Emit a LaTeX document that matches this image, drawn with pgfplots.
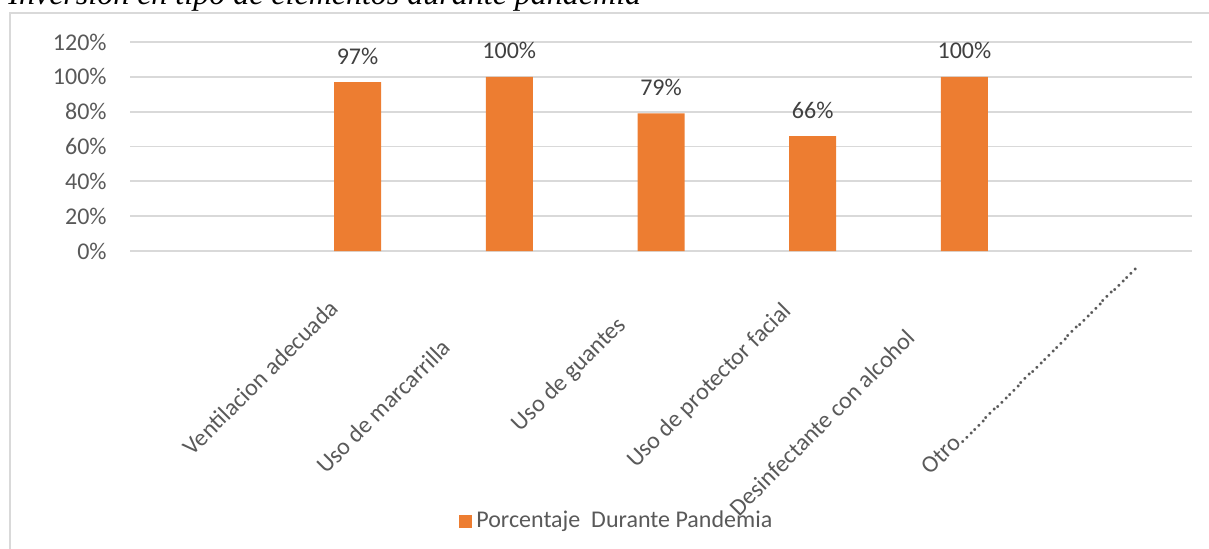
\documentclass[border=0pt]{standalone}
\usepackage{pgfplots}
\pgfplotsset{compat=1.18}
\usepackage{fontspec}
\setmainfont{Carlito}
\newfontfamily\titlefont{Liberation Serif}
\definecolor{barorange}{HTML}{ED7D31}
\definecolor{gridgray}{HTML}{D9D9D9}
\definecolor{ticktext}{HTML}{595959}
\definecolor{labeltext}{HTML}{404040}
\begin{document}
\begin{tikzpicture}
\useasboundingbox (0,0) rectangle (604.5pt,-274.5pt);
\begin{scope}
\clip (0,0) rectangle (604.5pt,-274.5pt);
\draw[gridgray, line width=1pt] (5pt,-300pt) -- (5pt,-6.5pt) -- (700pt,-6.5pt);
\node[anchor=base west, inner sep=0pt, font=\titlefont\itshape\fontsize{16}{18}\selectfont] at (4pt,-2.25pt) {Inversión en tipo de elementos durante pandemia};
\end{scope}
\begin{axis}[
  at={(65pt,-125.5pt)}, anchor=south west,
  scale only axis, width=531pt, height=104.5pt,
  xmin=0.5, xmax=7.5, ymin=0, ymax=120,
  ytick={0,20,...,120},
  yticklabel={\pgfmathprintnumber{\tick}\%},
  /pgf/number format/assume math mode=true,
  yticklabel style={font=\fontsize{12}{14}\selectfont, text=ticktext, inner sep=0pt, xshift=-11.5pt, anchor=east},
  xtick={2,...,7},
  xticklabels={
    {Ventilacion adecuada\kern15.2pt},
    {Uso de marcarrilla\kern43.1pt},
    {Uso de guantes\kern26.9pt},
    {Uso de protector facial\kern17pt},
    {Desinfectante con alcohol\kern36.4pt},
    {Otro………………………………………\kern-13.4pt}},
  xticklabel style={xshift=-4pt, yshift=-12.5pt, rotate=45, anchor=north east, inner sep=0pt, font=\fontsize{12}{14}\selectfont, text=ticktext},
  major tick length=0pt,
  axis line style={draw=none},
  ymajorgrids, major grid style={gridgray, line width=0.9pt},
  ybar, bar width=23.5pt,
  nodes near coords={\pgfmathprintnumber{\pgfplotspointmeta}\%},
  every node near coord/.append style={anchor=base, yshift=9pt, inner sep=0pt, font=\fontsize{12}{14}\selectfont, text=labeltext},
  legend style={at={(rel axis cs:0.3098,-1.2919)}, anchor=west, draw=none, fill=none, inner sep=0pt, font=\fontsize{12}{14}\selectfont, text=ticktext, legend cell align=left},
  legend image code/.code={\fill[barorange] (0pt,-3.25pt) rectangle (6.5pt,3.25pt);},
]
\addplot[fill=barorange, draw=none] coordinates {(2,97) (3,100) (4,79) (5,66) (6,100)};
\addlegendentry{Porcentaje~~Durante Pandemia}
\end{axis}
\end{tikzpicture}
\end{document}
